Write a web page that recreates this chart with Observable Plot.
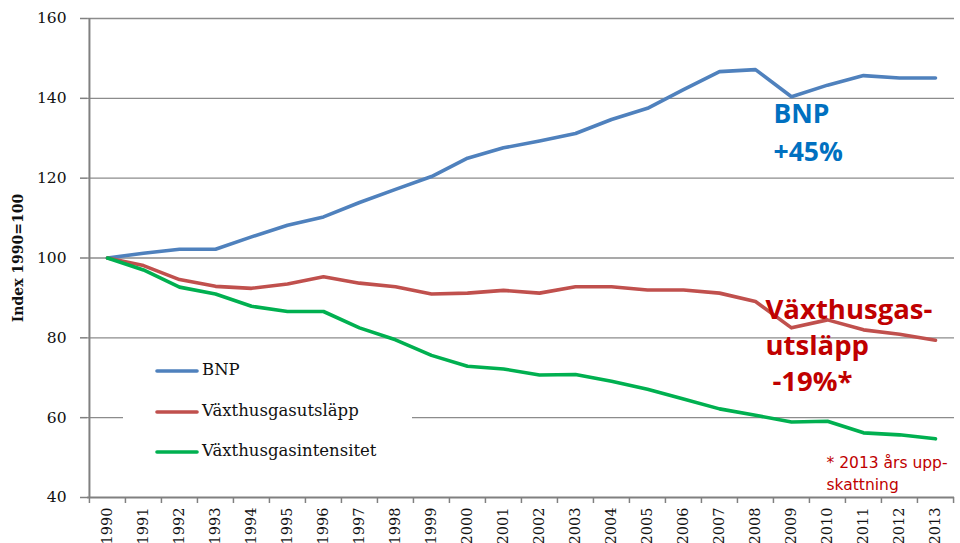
<!DOCTYPE html>
<html>
<head>
<meta charset="utf-8">
<script src="https://cdn.jsdelivr.net/npm/d3@7"></script>
<script src="https://cdn.jsdelivr.net/npm/@observablehq/plot@0.6"></script>
<style>
  html, body { margin: 0; padding: 0; background: white; }
  #wrap { position: relative; width: 960px; height: 543px; }
  #legend { position: absolute; left: 123px; top: 350px; width: 289px; height: 122px; background: white; }
  .entry { position: absolute; left: 0; height: 20px; width: 289px; }
  .entry svg { position: absolute; left: 32px; top: 0; }
  .entry span { position: absolute; left: 79px; top: -1px; line-height: 20px; font-family: "DejaVu Serif", serif; font-size: 16.5px; color: #111; white-space: nowrap; }
</style>
</head>
<body>
<div id="wrap"></div>
<script>
// ---- data ----
const years = ["1990","1991","1992","1993","1994","1995","1996","1997","1998","1999","2000","2001","2002","2003","2004","2005","2006","2007","2008","2009","2010","2011","2012","2013"];
const bnp = [100,101.2,102.2,102.2,105.3,108.2,110.3,113.9,117.2,120.4,125,127.6,129.3,131.2,134.7,137.5,142.2,146.7,147.2,140.4,143.3,145.7,145.1,145.1];
const utslapp = [100,98.1,94.6,92.9,92.4,93.5,95.3,93.7,92.8,91,91.2,91.9,91.2,92.8,92.8,92,92,91.2,89.1,82.5,84.5,82,80.9,79.4];
const intensitet = [100,97,92.7,91,87.9,86.6,86.6,82.5,79.5,75.6,72.9,72.2,70.7,70.8,69.1,67.1,64.7,62.2,60.6,58.9,59.1,56.2,55.7,54.7];
const seriesNames = ["BNP","Växthusgasutsläpp","Växthusgasintensitet"];
const seriesColors = ["#4F81BD","#C0504D","#00B050"];
const yTicks = [40,60,80,100,120,140,160];
const yLabel = "Index 1990=100";
const bnpNote = ["BNP","+45%"];
const ghgNote = ["Växthusgas-","utsläpp","-19%*"];
const footNote = ["* 2013 års upp-","skattning"];

// ---- table ----
const seriesValues = [bnp, utslapp, intensitet];
const rows = [];
seriesNames.forEach((name, s) => years.forEach((yr, i) => rows.push({series: name, year: yr, value: seriesValues[s][i]})));

const W = 960, H = 543, mL = 87, mR = 6, mT = 18, mB = 46;
const step = (W - mL - mR) / years.length;
const serif = "'DejaVu Serif', serif";
const sans = "'Open Sans', sans-serif";

const chart = Plot.plot({
  width: W, height: H,
  marginLeft: mL, marginRight: mR, marginTop: mT, marginBottom: mB,
  style: {background: "white", fontFamily: serif, fontSize: "15px", color: "#111"},
  x: {type: "point", domain: years, padding: 0.5, label: null},
  y: {domain: [40, 160], label: null},
  color: {domain: seriesNames, range: seriesColors},
  marks: [
    Plot.ruleY(yTicks.filter(v => v > 40), {stroke: "#8c8c8c", strokeWidth: 1.3}),
    Plot.ruleY([40], {stroke: "#808080", strokeWidth: 2}),
    Plot.ruleX([years[0]], {dx: -step / 2, stroke: "#808080", strokeWidth: 2}),
    Plot.axisY({ticks: yTicks, tickSize: 7, tickPadding: 14, stroke: "#808080", strokeWidth: 1.5, fontSize: 15.5, fill: "#111", label: null}),
    Plot.axisX({tickSize: 6, dx: -step / 2, tickFormat: () => "", stroke: "#808080", strokeWidth: 1.5, label: null}),
    Plot.axisX({ticks: [years[years.length - 1]], tickSize: 6, dx: step / 2, tickFormat: () => "", stroke: "#808080", strokeWidth: 1.5, label: null}),
    Plot.axisX({tickSize: 0, tickPadding: 10, tickRotate: -90, fontSize: 14.5, fill: "#111", label: null}),
    Plot.text([yLabel], {text: d => d, frameAnchor: "left", textAnchor: "middle", dx: -69, rotate: -90, fontWeight: "bold", fontSize: 14, fontFamily: serif, fill: "#111"}),
    Plot.line(rows, {x: "year", y: "value", stroke: "series", z: "series", strokeWidth: 3.6, strokeLinejoin: "round", strokeLinecap: "round"}),
    Plot.text([bnpNote[0]], {text: d => d, x: () => "2009", y: () => 133.8, dx: -18, textAnchor: "start", lineAnchor: "bottom", fontFamily: sans, fontWeight: "bold", fontSize: 26.5, fill: "#0070C0"}),
    Plot.text([bnpNote[1]], {text: d => d, x: () => "2009", y: () => 124.3, dx: -18, textAnchor: "start", lineAnchor: "bottom", fontFamily: sans, fontWeight: "bold", fontSize: 26.5, fill: "#0070C0"}),
    Plot.text([ghgNote[0]], {text: d => d, x: () => "2009", y: () => 84.8, dx: -26, textAnchor: "start", lineAnchor: "bottom", fontFamily: sans, fontWeight: "bold", fontSize: 27.5, fill: "#C00000"}),
    Plot.text([ghgNote[1]], {text: d => d, x: () => "2009", y: () => 75.6, dx: -26, textAnchor: "start", lineAnchor: "bottom", fontFamily: sans, fontWeight: "bold", fontSize: 27.5, fill: "#C00000"}),
    Plot.text([ghgNote[2]], {text: d => d, x: () => "2009", y: () => 66.8, dx: -19, textAnchor: "start", lineAnchor: "bottom", fontFamily: sans, fontWeight: "bold", fontSize: 27.5, fill: "#C00000"}),
    Plot.text([footNote[0]], {text: d => d, x: () => "2010", y: () => 47.3, dx: -1, textAnchor: "start", lineAnchor: "bottom", fontFamily: "'DejaVu Sans', sans-serif", fontSize: 15.5, fill: "#C00000"}),
    Plot.text([footNote[1]], {text: d => d, x: () => "2010", y: () => 41.8, dx: -1, textAnchor: "start", lineAnchor: "bottom", fontFamily: "'DejaVu Sans', sans-serif", fontSize: 15.5, fill: "#C00000"})
  ]
});

const wrap = document.getElementById("wrap");
wrap.appendChild(chart);

// legend (inside plot area, white box)
const legend = document.createElement("div");
legend.id = "legend";
seriesNames.forEach((name, i) => {
  const e = document.createElement("div");
  e.className = "entry";
  e.style.top = (11 + i * 40.5) + "px";
  e.innerHTML = `<svg width="44" height="20"><line x1="2" x2="42" y1="10" y2="10" stroke="${seriesColors[i]}" stroke-width="3.6" stroke-linecap="round"/></svg><span>${name}</span>`;
  legend.appendChild(e);
});
wrap.appendChild(legend);
</script>
</body>
</html>
